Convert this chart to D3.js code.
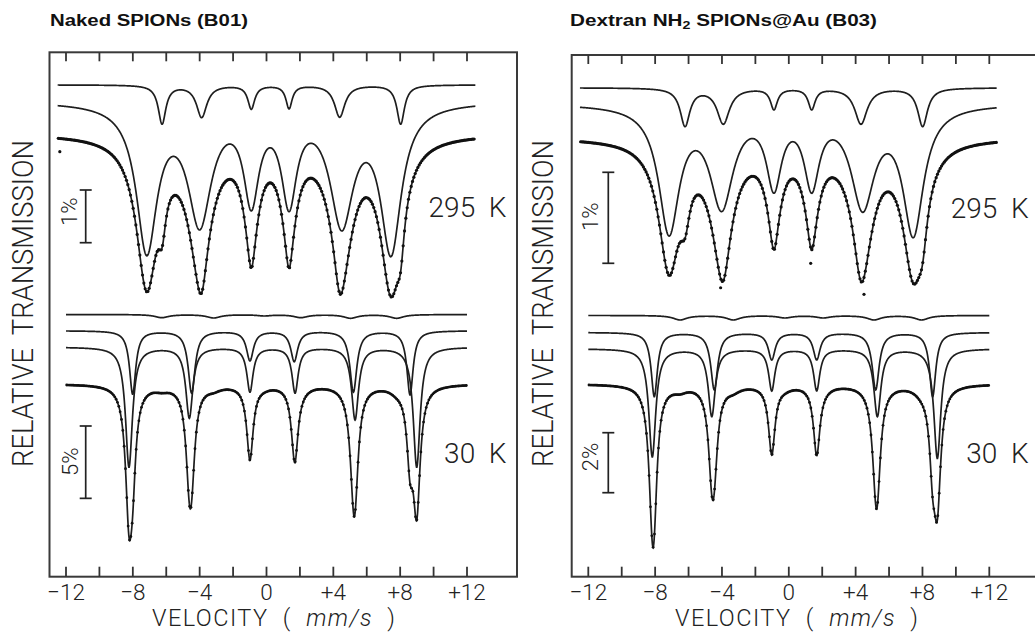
<!DOCTYPE html>
<html>
<head>
<meta charset="utf-8">
<script src="https://cdn.jsdelivr.net/npm/d3@7"></script>
<style>
body { margin: 0; background: #fff; }
svg { display: block; }
.spec { font-family: Roboto, "DejaVu Sans", sans-serif; font-weight: 300; fill: #222; }
.title { font-family: "Liberation Sans", Arial, sans-serif; font-weight: bold; font-size: 16px; fill: #111; }
</style>
</head>
<body>
<div id="chart"></div>
<script>
// velocity axis (mm/s)
var tickVals = d3.range(-12, 13, 2);
var labelVals = [-12, -8, -4, 0, 4, 8, 12];
var labelText = ["\u221212", "\u22128", "\u22124", "0", "+4", "+8", "+12"];

// Mossbauer sub-spectra.
// each row: line centre (mm/s), relative transmission at the centre (%), line width FWHM (mm/s)
// edges: transmission at the first channel for each sub-spectrum, then for the fit

// Naked SPIONs (B01), 295 K
var b01Hot_sharp = [[-6.25, 0.266, 0.55], [-3.88, 0.391, 0.75], [-0.91, 0.550, 0.5], [1.35, 0.556, 0.45], [4.38, 0.398, 0.75], [8.03, 0.266, 0.55]];
var b01Hot_broad = [[-7.17, -2.228, 1.5], [-4.0, -1.740, 1.7], [-0.91, -1.380, 1.1], [1.35, -1.393, 1.1], [4.5, -1.759, 1.7], [7.45, -2.247, 1.5]];
var b01Hot_edge = [1.011, 0.619, 0];
var b01Hot_outliers = [[-12.37, -0.254]];

// Naked SPIONs (B01), 30 K
var b01Cold_weak = [[-6.27, 4.651, 1.0], [-3.16, 4.630, 1.0], [-0.14, 4.768, 1.0], [2.05, 4.651, 1.0], [5.03, 4.610, 1.0], [7.79, 4.610, 1.0]];
var b01Cold_siteA = [[-8.01, -0.642, 0.45], [-4.48, -0.574, 0.5], [-0.99, 1.659, 0.5], [1.66, 1.610, 0.5], [5.2, -0.505, 0.5], [8.59, -0.691, 0.45]];
var b01Cold_siteB = [[-8.23, -5.687, 0.5], [-4.62, -2.301, 0.5], [-0.99, -0.503, 0.45], [1.71, -0.574, 0.45], [5.3, -2.419, 0.5], [8.99, -5.687, 0.5]];
var b01Cold_edge = [4.87, 3.732, 2.578, 0];

// Dextran NH2 SPIONs@Au (B03), 295 K
var b03Hot_sharp = [[-6.21, 0.165, 0.7], [-3.92, 0.191, 0.9], [-0.89, 0.348, 0.5], [1.37, 0.348, 0.5], [4.32, 0.191, 0.9], [8.01, 0.165, 0.7]];
var b03Hot_broad = [[-7.17, -1.036, 1.5], [-4.02, -0.769, 1.7], [-0.89, -0.567, 1.1], [1.37, -0.567, 1.1], [4.42, -0.776, 1.7], [7.45, -1.055, 1.5]];
var b03Hot_edge = [0.590, 0.378, 0];
var b03Hot_outliers = [[1.31, -1.336], [4.5, -1.677], [-4.08, -1.605]];

// Dextran NH2 SPIONs@Au (B03), 30 K
var b03Cold_weak = [[-6.51, 2.167, 1.0], [-3.32, 2.167, 1.0], [-0.23, 2.233, 1.0], [2.06, 2.233, 1.0], [5.10, 2.167, 1.0], [7.95, 2.167, 1.0]];
var b03Cold_siteA = [[-8.05, -0.39, 0.45], [-4.46, -0.167, 0.5], [-1.02, 0.833, 0.5], [1.67, 0.833, 0.5], [5.2, -0.167, 0.5], [8.61, -0.39, 0.45]];
var b03Cold_siteB = [[-8.17, -2.40, 0.5], [-4.61, -1.057, 0.5], [-1.02, -0.2, 0.45], [1.67, -0.2, 0.45], [5.30, -1.057, 0.5], [8.89, -2.45, 0.5]];
var b03Cold_edge = [2.317, 1.743, 1.19, 0];

var temps = ["295  K", "30  K"];
var barSizes = [[1, 5], [1, 2]];  // % per scale bar, per panel
var titles = ["Naked SPIONs (B01)", "Dextran NH"];

var width = 1035, height = 632;
var svg = d3.select("#chart").append("svg").attr("width", width).attr("height", height);

function lor(v, c, w) {
    var t = (v - c) / (w / 2);
    return 1 / (1 + t * t);
}

// find baseline + depths so the curve passes through the read levels
function makeSextet(rows, edge, v0) {
    var pts = [v0].concat(rows.map(function(r) { return r[0]; }));
    var tgt = [edge].concat(rows.map(function(r) { return r[1]; }));
    var n = pts.length;
    var M = pts.map(function(v, k) {
        return [1].concat(rows.map(function(r) { return -lor(v, r[0], r[2]); })).concat([tgt[k]]);
    });
    for (var i = 0; i < n; i++) {
        var p = i;
        for (var k = i + 1; k < n; k++) if (Math.abs(M[k][i]) > Math.abs(M[p][i])) p = k;
        var tmp = M[i]; M[i] = M[p]; M[p] = tmp;
        for (k = i + 1; k < n; k++) {
            var f = M[k][i] / M[i][i];
            for (var j = i; j <= n; j++) M[k][j] -= f * M[i][j];
        }
    }
    var x = new Array(n).fill(0);
    for (i = n - 1; i >= 0; i--) {
        var s = M[i][n];
        for (j = i + 1; j < n; j++) s -= M[i][j] * x[j];
        x[i] = s / M[i][i];
    }
    return function(v) {
        var s = x[0];
        rows.forEach(function(r, q) { s -= x[q + 1] * lor(v, r[0], r[2]); });
        return s;
    };
}

var panels = [
    { xr: [66, 467], frame: [49.5, 52.3, 517, 576.7], titleX: 50, titleW: 198, ylabX: 33.3, velX: 152,
      sections: [
        { comps: [b01Hot_sharp, b01Hot_broad], edge: b01Hot_edge, v: [-12.5, 12.5], outliers: b01Hot_outliers, dot: 1.6,
          yEdge: 138.3, ppp: 52.7, barTop: 190, barX: 85.7, barLabX: 76.7, barLabY: 211.7, tempY: 216.7 },
        { comps: [b01Cold_weak, b01Cold_siteA, b01Cold_siteB], edge: b01Cold_edge, v: [-12, 12], outliers: [], dot: 1.4,
          yEdge: 385, ppp: 14.47, barTop: 426, barX: 85.7, barLabX: 78, barLabY: 461.7, tempY: 463.3 }
      ] },
    { xr: [588.3, 989.3], frame: [571.7, 55, 1045, 576.7], titleX: 570, titleW: 307, ylabX: 553.3, velX: 675,
      sections: [
        { comps: [b03Hot_sharp, b03Hot_broad], edge: b03Hot_edge, v: [-12.5, 12.45], outliers: b03Hot_outliers, dot: 1.6,
          yEdge: 141.7, ppp: 91, barTop: 172.3, barX: 608.3, barLabX: 598.3, barLabY: 216.7, tempY: 218.3 },
        { comps: [b03Cold_weak, b03Cold_siteA, b03Cold_siteB], edge: b03Cold_edge, v: [-12, 12], outliers: [], dot: 1.4,
          yEdge: 385, ppp: 30, barTop: 432.7, barX: 608.3, barLabX: 598, barLabY: 457, tempY: 463.3 }
      ] }
];

panels.forEach(function(P, pi) {
    var g = svg.append("g");
    var x = d3.scaleLinear().domain([-12, 12]).range(P.xr);
    var fr = P.frame;

    // frame
    g.append("rect")
        .attr("x", fr[0]).attr("y", fr[1])
        .attr("width", fr[2] - fr[0]).attr("height", fr[3] - fr[1])
        .attr("fill", "none").attr("stroke", "#3a3a3a").attr("stroke-width", 2);

    // ticks top and bottom
    g.selectAll(".tt").data(tickVals).enter().append("line")
        .attr("x1", d => x(d)).attr("x2", d => x(d))
        .attr("y1", fr[1]).attr("y2", fr[1] + 9)
        .attr("stroke", "#333").attr("stroke-width", 1.8);
    g.selectAll(".tb").data(tickVals).enter().append("line")
        .attr("x1", d => x(d)).attr("x2", d => x(d))
        .attr("y1", fr[3]).attr("y2", fr[3] - 10)
        .attr("stroke", "#333").attr("stroke-width", 1.8);

    g.selectAll(".tl").data(labelVals).enter().append("text")
        .attr("class", "spec")
        .attr("x", d => x(d)).attr("y", 600)
        .attr("text-anchor", "middle")
        .attr("font-size", 22.5)
        .text((d, i) => labelText[i]);

    // velocity label
    var vt = g.append("text").attr("class", "spec")
        .attr("x", P.velX).attr("y", 626)
        .attr("font-size", 23.5)
        .attr("textLength", 243).attr("lengthAdjust", "spacing")
        .style("white-space", "pre");
    vt.append("tspan").text("VELOCITY  (  ");
    vt.append("tspan").attr("font-style", "italic").text("mm/s");
    vt.append("tspan").text("  )");

    // y label
    g.append("text").attr("class", "spec")
        .attr("transform", "translate(" + P.ylabX + ",303.5) rotate(-90)")
        .attr("text-anchor", "middle")
        .attr("font-size", 29)
        .attr("textLength", 327).attr("lengthAdjust", "spacingAndGlyphs")
        .style("white-space", "pre")
        .text("RELATIVE  TRANSMISSION");

    // title
    var tt = g.append("text").attr("class", "title")
        .attr("x", P.titleX).attr("y", 26)
        .attr("textLength", P.titleW).attr("lengthAdjust", "spacingAndGlyphs");
    tt.append("tspan").text(titles[pi]);
    if (pi === 1) {
        tt.append("tspan").attr("font-size", 11).attr("dy", 3).text("2");
        tt.append("tspan").attr("dy", -3).text(" SPIONs@Au (B03)");
    }

    P.sections.forEach(function(S, si) {
        var y = d3.scaleLinear().domain([0, -1]).range([S.yEdge, S.yEdge + S.ppp]);
        var v0 = S.v[0];
        var subs = S.comps.map(function(rows, ci) { return makeSextet(rows, S.edge[ci], v0); });
        var fitEdge = S.edge[S.edge.length - 1];
        var fit = function(v) {
            var s = fitEdge;
            subs.forEach(function(f, ci) { s += f(v) - S.edge[ci]; });
            return s;
        };
        var vs = d3.range(S.v[0], S.v[1] + 1e-9, 0.02);
        var line = d3.line().x(d => x(d[0])).y(d => y(d[1]));

        subs.concat([fit]).forEach(function(f) {
            g.append("path")
                .datum(vs.map(v => [v, f(v)]))
                .attr("d", line)
                .attr("fill", "none")
                .attr("stroke", "#1e1e1e")
                .attr("stroke-width", 1.7);
        });

        // measured points on the channel grid
        var chans = d3.range(S.v[0] + 0.04, S.v[1], 0.08);
        var pts = chans.map(v => [v, fit(v)]).concat(S.outliers);
        g.selectAll(null).data(pts).enter().append("circle")
            .attr("cx", d => x(d[0])).attr("cy", d => y(d[1]))
            .attr("r", S.dot).attr("fill", "#111");

        // scale bar
        var len = barSizes[pi][si];
        var bl = y(-len) - y(0);
        var bx = S.barX, b0 = S.barTop, b1 = S.barTop + bl;
        g.append("line").attr("x1", bx).attr("x2", bx).attr("y1", b0).attr("y2", b1)
            .attr("stroke", "#222").attr("stroke-width", 1.7);
        [b0, b1].forEach(function(yy) {
            g.append("line").attr("x1", bx - 6).attr("x2", bx + 6).attr("y1", yy).attr("y2", yy)
                .attr("stroke", "#222").attr("stroke-width", 1.7);
        });
        g.append("text").attr("class", "spec")
            .attr("transform", "translate(" + S.barLabX + "," + S.barLabY + ") rotate(-90)")
            .attr("text-anchor", "middle")
            .attr("font-size", 22)
            .text(len + "%");

        // temperature
        g.append("text").attr("class", "spec")
            .attr("x", fr[0] + 457).attr("y", S.tempY)
            .attr("text-anchor", "end")
            .attr("font-size", 28)
            .style("white-space", "pre")
            .text(temps[si]);
    });
});
</script>
</body>
</html>
